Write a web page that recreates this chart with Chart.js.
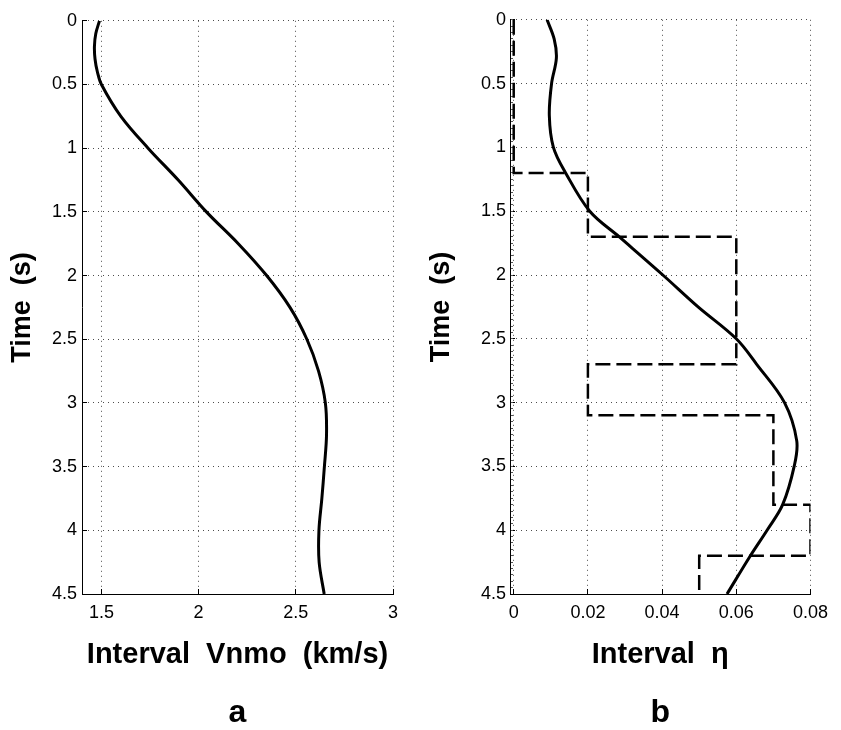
<!DOCTYPE html>
<html>
<head>
<meta charset="utf-8">
<script src="https://cdn.jsdelivr.net/npm/chart.js@4.4.0/dist/chart.umd.min.js"></script>
<style>
  body { margin: 0; background: #fff; }
  #wrap { position: relative; width: 841px; height: 730px; }
  canvas { position: absolute; top: 0; }
</style>
</head>
<body>
<div id="wrap">
  <canvas id="chartA" width="420" height="730" style="left:0"></canvas>
  <canvas id="chartB" width="421" height="730" style="left:420px"></canvas>
</div>
<script>
const FONT = "'Liberation Sans', Arial, sans-serif";

// time axis (s), shared by both panels
const timeTicks = [0, 0.5, 1, 1.5, 2, 2.5, 3, 3.5, 4, 4.5];
const timeMinorTicks = [];
for (let k = 0; k <= 90; k++) timeMinorTicks.push(k * 0.05);

// panel a - interval Vnmo (km/s)
const vnmoTime = [0, 0.1, 0.2, 0.3, 0.4, 0.5, 0.75, 1.0, 1.25, 1.5, 1.75, 2.0, 2.25, 2.5, 2.75, 3.0, 3.25, 3.5, 3.75, 4.0, 4.25, 4.5];
const vnmo = [1.49, 1.471, 1.464, 1.467, 1.479, 1.5, 1.6, 1.74, 1.895, 2.04, 2.204, 2.35, 2.47, 2.557, 2.617, 2.652, 2.658, 2.647, 2.634, 2.619, 2.62, 2.646];
const vnmoTicks = [1.5, 2, 2.5, 3];

// panel b - interval eta, smooth estimate
const etaTime = [0, 0.15, 0.3, 0.5, 0.75, 1.0, 1.2, 1.5, 1.7, 2.0, 2.25, 2.5, 2.7, 3.0, 3.3, 3.5, 3.8, 4.0, 4.2, 4.5];
const eta = [0.009, 0.0109, 0.0115, 0.0102, 0.0096, 0.0107, 0.014, 0.0205, 0.0284, 0.0402, 0.0497, 0.06, 0.0655, 0.073, 0.0763, 0.0756, 0.0725, 0.0683, 0.0638, 0.0575];

// panel b - blocky model (dashed)
const layerTop = [0, 1.2, 1.7, 2.7, 3.1, 3.8, 4.2];
const layerBottom = [1.2, 1.7, 2.7, 3.1, 3.8, 4.2, 4.5];
const layerEta = [0, 0.02, 0.06, 0.02, 0.07, 0.08, 0.05];
const etaTicks = [0, 0.02, 0.04, 0.06, 0.08];

Chart.defaults.font.family = FONT;
Chart.defaults.color = '#000';
Chart.defaults.animation = false;

const fmt = v => String(Number(v.toFixed(3)));
const fixTicks = values => scale => { scale.ticks = values.map(v => ({ value: v })); };

const grid = { color: 'rgba(0,0,0,0.7)', lineWidth: 1, tickLength: -5, tickColor: '#000', tickBorderDash: [] };
const border = { color: '#000', width: 1, dash: [1, 4] };

function makePanel(id, cfg) {
  const scales = {
    x: {
      min: cfg.xMin, max: cfg.xMax,
      afterBuildTicks: fixTicks(cfg.xTicks),
      afterFit: s => { s.height = 93; },
      grid: grid, border: border,
      ticks: { font: { size: 18 }, padding: 13, maxRotation: 0, callback: fmt },
      title: { display: true, text: cfg.xTitle, font: { size: 29, weight: 'bold' }, padding: { top: 0, bottom: 15 } }
    },
    y: {
      reverse: true, min: 0, max: 4.5, weight: 1,
      afterBuildTicks: fixTicks(timeTicks),
      afterFit: s => { s.width = cfg.yWidth; },
      grid: grid, border: border,
      ticks: { font: { size: 18 }, padding: cfg.yPad, callback: fmt },
      title: { display: true, text: 'Time  (s)', font: { size: 27, weight: 'bold' }, padding: { top: cfg.yTitlePad, bottom: 0 } }
    }
  };
  if (cfg.minor) {
    // small inward ticks along the time axis
    scales.yMinor = {
      position: 'left', reverse: true, min: 0, max: 4.5, weight: 0,
      afterBuildTicks: fixTicks(timeMinorTicks),
      afterFit: s => { s.width = 0; },
      grid: { drawOnChartArea: false, tickLength: -3, tickColor: '#555', tickBorderDash: [] },
      border: { display: false },
      ticks: { display: false }
    };
  }
  return new Chart(document.getElementById(id), {
    type: 'scatter',
    data: { datasets: cfg.datasets },
    options: {
      responsive: false,
      layout: { padding: { top: 11, right: cfg.padRight, bottom: 0, left: 0 } },
      plugins: {
        legend: { display: false },
        tooltip: { enabled: false },
        title: {
          display: true, text: cfg.letter, position: 'bottom', fullSize: false,
          font: { size: 32, weight: 'bold', lineHeight: 1 },
          padding: { top: 10, bottom: 1 }
        }
      },
      scales: scales
    }
  });
}

makePanel('chartA', {
  letter: 'a', padRight: 27, yWidth: 82, yPad: 10, yTitlePad: 6, minor: false,
  xMin: 1.4, xMax: 3, xTicks: vnmoTicks, xTitle: 'Interval  Vnmo  (km/s)',
  datasets: [{
    data: vnmoTime.map((t, i) => ({ x: vnmo[i], y: t })),
    showLine: true, borderColor: '#000', borderWidth: 3, pointRadius: 0, tension: 0.35
  }]
});

const steps = [];
layerEta.forEach((e, i) => {
  steps.push({ x: e, y: layerTop[i] }, { x: e, y: layerBottom[i] });
});

makePanel('chartB', {
  letter: 'b', padRight: 23, yWidth: 90, yPad: 9, yTitlePad: 5, minor: true,
  xMin: -0.001, xMax: 0.08, xTicks: etaTicks, xTitle: 'Interval  η',
  datasets: [{
    data: etaTime.map((t, i) => ({ x: eta[i], y: t })),
    showLine: true, borderColor: '#000', borderWidth: 3, pointRadius: 0, tension: 0.35,
    yAxisID: 'y'
  }, {
    data: steps,
    showLine: true, borderColor: '#000', borderWidth: 2.5, borderDash: [15, 6], pointRadius: 0, tension: 0,
    yAxisID: 'y'
  }]
});
</script>
</body>
</html>
